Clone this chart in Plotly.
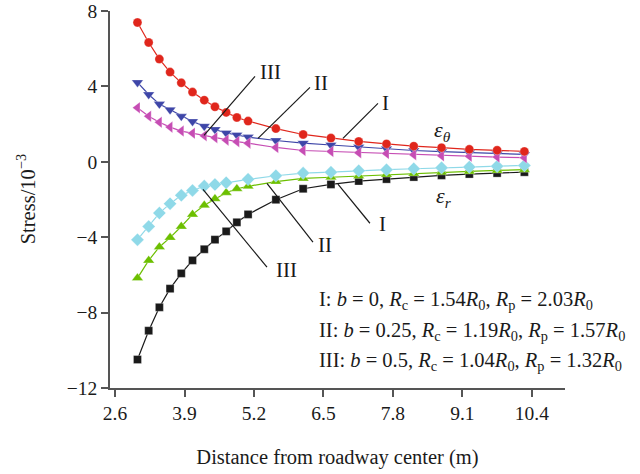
import plotly.graph_objects as go

# ---- data ----
distance = [3.02, 3.23, 3.43, 3.63, 3.84, 4.05, 4.27, 4.47, 4.68, 4.88, 5.09,
            5.61, 6.12, 6.64, 7.16, 7.68, 8.19, 8.71, 9.23, 9.75, 10.26]

eps_theta_I = [7.39, 6.33, 5.45, 4.76, 4.19, 3.70, 3.27, 2.92, 2.62, 2.35, 2.16,
               1.76, 1.45, 1.26, 1.08, 0.95, 0.83, 0.75, 0.66, 0.61, 0.55]
eps_theta_II = [4.21, 3.57, 3.06, 2.76, 2.41, 2.14, 1.89, 1.72, 1.53, 1.42, 1.31,
                1.13, 0.99, 0.89, 0.78, 0.69, 0.60, 0.54, 0.48, 0.43, 0.39]
eps_theta_III = [2.87, 2.42, 2.10, 1.84, 1.63, 1.52, 1.38, 1.28, 1.15, 1.07, 0.99,
                 0.76, 0.60, 0.55, 0.48, 0.44, 0.38, 0.32, 0.29, 0.25, 0.22]

eps_r_I = [-10.49, -8.96, -7.72, -6.73, -5.92, -5.23, -4.64, -4.13, -3.69, -3.21, -2.79,
           -2.01, -1.43, -1.20, -1.02, -0.92, -0.81, -0.72, -0.65, -0.60, -0.55]
eps_r_II = [-6.17, -5.23, -4.52, -4.02, -3.43, -2.79, -2.31, -1.96, -1.64, -1.43, -1.30,
            -1.05, -0.88, -0.82, -0.75, -0.68, -0.62, -0.56, -0.51, -0.46, -0.42]
eps_r_III = [-4.13, -3.43, -2.72, -2.22, -1.78, -1.52, -1.29, -1.21, -1.11, None, -0.93,
             -0.74, -0.60, -0.55, -0.47, -0.42, -0.37, -0.31, -0.28, -0.23, -0.19]

x_ticks = [2.6, 3.9, 5.2, 6.5, 7.8, 9.1, 10.4]
y_ticks = [-12, -8, -4, 0, 4, 8]

FONT = "Liberation Serif"
INK = "#1a1a1a"

fig = go.Figure()

def add(y, color, symbol, size, name, lw=1.2):
    fig.add_trace(go.Scatter(
        x=distance, y=y, mode="lines+markers", name=name, connectgaps=True,
        line=dict(color=color, width=lw),
        marker=dict(symbol=symbol, size=size, color=color,
                    line=dict(color="rgba(255,255,255,0.6)", width=0.5)),
        showlegend=False))

add(eps_r_I, "#1a1a1a", "square", 8, "r I")
add(eps_r_II, "#6cbf00", "triangle-up", 10, "r II")
add(eps_r_III, "#8fd9e8", "diamond", 10, "r III")
add(eps_theta_II, "#3e46a8", "triangle-down", 10, "t II")
add(eps_theta_III, "#c64db4", "triangle-left", 10, "t III")
add(eps_theta_I, "#e0261c", "circle", 9, "t I")

# leader lines for curve labels (data units)
leaders = [
    (4.265, 1.40, 5.219, 4.53),
    (5.275, 1.245, 6.248, 3.95),
    (6.865, 1.245, 7.520, 3.10),
    (6.771, -1.19, 7.370, -3.26),
    (5.443, -1.14, 6.304, -4.26),
    (4.246, -1.46, 5.443, -5.59),
]
for x0, y0, x1, y1 in leaders:
    fig.add_shape(type="line", xref="x", yref="y", x0=x0, y0=y0, x1=x1, y1=y1,
                  line=dict(color=INK, width=1.2))

labels = [
    (5.50, 4.74, "III"),
    (6.45, 4.16, "II"),
    (7.66, 3.10, "I"),
    (7.60, -3.31, "I"),
    (6.53, -4.42, "II"),
    (5.80, -5.75, "III"),
]
for x, y, t in labels:
    fig.add_annotation(x=x, y=y, xref="x", yref="y", text=t, showarrow=False,
                       font=dict(family=FONT, size=21, color=INK))

fig.add_annotation(x=8.72, y=1.65, xref="x", yref="y",
                   text="<i>ε</i><sub><i>θ</i></sub>", showarrow=False,
                   font=dict(family=FONT, size=22, color=INK))
fig.add_annotation(x=8.75, y=-1.88, xref="x", yref="y",
                   text="<i>ε</i><sub><i>r</i></sub>", showarrow=False,
                   font=dict(family=FONT, size=22, color=INK))

case_lines = [
    "I: <i>b</i> = 0, <i>R</i><sub>c</sub> = 1.54<i>R</i><sub>0</sub>, <i>R</i><sub>p</sub> = 2.03<i>R</i><sub>0</sub>",
    "II: <i>b</i> = 0.25, <i>R</i><sub>c</sub> = 1.19<i>R</i><sub>0</sub>, <i>R</i><sub>p</sub> = 1.57<i>R</i><sub>0</sub>",
    "III: <i>b</i> = 0.5, <i>R</i><sub>c</sub> = 1.04<i>R</i><sub>0</sub>, <i>R</i><sub>p</sub> = 1.32<i>R</i><sub>0</sub>",
]
for t, y in zip(case_lines, [-7.35, -9.0, -10.6]):
    fig.add_annotation(x=6.38, y=y, xref="x", yref="y", text=t, showarrow=False,
                       xanchor="left", font=dict(family=FONT, size=20.5, color=INK))

# y-axis title placed as a rotated annotation
fig.add_annotation(x=-0.185, y=0.5, xref="paper", yref="paper",
                   text="Stress/10<sup>−3</sup>", textangle=-90, showarrow=False,
                   xanchor="center", yanchor="middle",
                   font=dict(family=FONT, size=20.5, color=INK))

axis_common = dict(showgrid=False, zeroline=False, showline=True, linecolor="#555555",
                   linewidth=1.5, ticks="outside", ticklen=7, tickwidth=1.5,
                   tickcolor="#555555", automargin=False,
                   tickfont=dict(family=FONT, size=19.5, color=INK))

fig.update_xaxes(range=[2.506, 11.02], tickvals=x_ticks,
                 ticktext=[f"{v:.1f}" for v in x_ticks],
                 title=dict(text="Distance from roadway center (m)",
                            font=dict(family=FONT, size=20.5, color=INK), standoff=26),
                 **axis_common)
fig.update_yaxes(range=[-12, 8], tickvals=y_ticks,
                 ticktext=[("−" + str(abs(v))) if v < 0 else str(v) for v in y_ticks],
                 **axis_common)

fig.update_layout(width=640, height=474, margin=dict(l=110, r=75, t=10.5, b=86),
                  plot_bgcolor="white", paper_bgcolor="white")

fig.write_html("out.html")
